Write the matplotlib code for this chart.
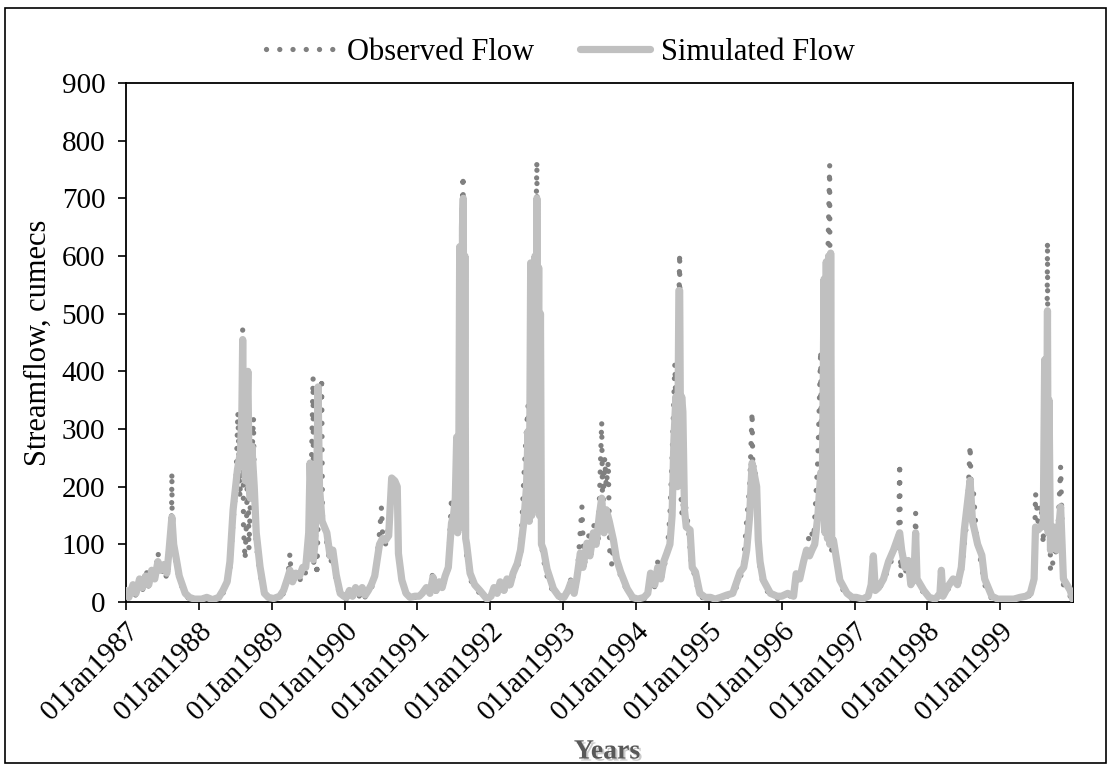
import numpy as np
import pandas as pd
import matplotlib
matplotlib.use('Agg')
import matplotlib.pyplot as plt
import matplotlib.patheffects as path_effects
from matplotlib.lines import Line2D
from matplotlib.patches import Rectangle

# Наблюдённый расход (cumecs), узловые точки ряда
obs_dates = [
    '1987-01-01', '1987-01-15', '1987-02-05', '1987-02-20', '1987-03-10', '1987-03-25', '1987-04-12', '1987-04-25',
    '1987-05-10', '1987-05-25', '1987-06-10', '1987-06-25', '1987-07-10', '1987-07-25', '1987-08-05', '1987-08-17',
    '1987-08-19', '1987-08-21', '1987-08-28', '1987-09-10', '1987-09-25', '1987-10-10', '1987-10-25', '1987-11-15',
    '1987-12-10',
    '1988-01-15', '1988-02-10', '1988-03-10', '1988-04-10', '1988-05-01', '1988-05-22', '1988-06-05', '1988-06-21',
    '1988-07-05', '1988-07-15', '1988-07-25', '1988-08-04', '1988-08-08', '1988-08-12', '1988-08-20', '1988-08-28',
    '1988-09-03', '1988-09-08', '1988-09-18', '1988-10-01', '1988-10-06', '1988-10-15', '1988-11-03', '1988-11-25',
    '1988-12-15',
    '1989-01-10', '1989-02-10', '1989-03-01', '1989-03-20', '1989-04-02', '1989-04-10', '1989-05-01', '1989-05-20',
    '1989-06-05', '1989-06-20', '1989-07-05', '1989-07-15', '1989-07-27', '1989-07-30', '1989-08-10', '1989-08-15',
    '1989-08-25', '1989-09-08', '1989-09-12', '1989-09-20', '1989-10-05', '1989-10-20', '1989-11-03', '1989-11-20',
    '1989-12-10', '1989-12-28',
    '1990-01-10', '1990-01-25', '1990-02-10', '1990-02-25', '1990-03-15', '1990-03-30', '1990-04-15', '1990-04-30',
    '1990-05-15', '1990-06-01', '1990-06-25', '1990-07-05', '1990-07-10', '1990-07-25', '1990-08-10', '1990-08-25',
    '1990-09-10', '1990-09-22', '1990-09-28', '1990-10-15', '1990-11-05', '1990-11-25', '1990-12-20',
    '1991-01-10', '1991-01-25', '1991-02-15', '1991-03-05', '1991-03-20', '1991-04-05', '1991-04-20', '1991-05-05',
    '1991-05-20', '1991-06-05', '1991-06-21', '1991-07-01', '1991-07-10', '1991-07-17', '1991-07-25', '1991-08-01',
    '1991-08-08', '1991-08-18', '1991-08-22', '1991-08-27', '1991-08-31', '1991-09-05', '1991-09-22', '1991-10-15',
    '1991-11-10', '1991-12-16',
    '1992-01-05', '1992-01-20', '1992-02-05', '1992-02-20', '1992-03-10', '1992-03-25', '1992-04-10', '1992-04-25',
    '1992-05-16', '1992-06-01', '1992-06-17', '1992-07-01', '1992-07-09', '1992-07-14', '1992-07-25', '1992-08-05',
    '1992-08-15', '1992-08-22', '1992-08-26', '1992-09-01', '1992-09-06', '1992-09-12', '1992-09-20', '1992-10-12',
    '1992-11-13', '1992-12-10',
    '1993-01-05', '1993-01-25', '1993-02-06', '1993-02-25', '1993-03-10', '1993-04-05', '1993-04-15', '1993-04-30',
    '1993-05-15', '1993-06-10', '1993-06-25', '1993-07-13', '1993-07-18', '1993-07-28', '1993-08-05', '1993-08-15',
    '1993-08-22', '1993-09-02', '1993-09-10', '1993-09-25', '1993-10-16', '1993-11-18', '1993-12-15',
    '1994-01-10', '1994-02-10', '1994-03-01', '1994-03-15', '1994-04-05', '1994-04-20', '1994-05-05', '1994-05-20',
    '1994-06-05', '1994-06-20', '1994-07-01', '1994-07-15', '1994-07-22', '1994-08-01', '1994-08-08', '1994-08-12',
    '1994-08-20', '1994-08-28', '1994-09-10', '1994-09-20', '1994-10-05', '1994-10-26', '1994-11-17', '1994-12-15',
    '1995-01-10', '1995-02-01', '1995-03-01', '1995-04-01', '1995-05-01', '1995-06-07', '1995-06-24', '1995-07-10',
    '1995-07-25', '1995-08-06', '1995-08-10', '1995-08-20', '1995-08-29', '1995-09-06', '1995-09-15', '1995-10-01',
    '1995-11-06', '1995-12-10',
    '1996-01-01', '1996-02-01', '1996-03-01', '1996-03-14', '1996-04-04', '1996-04-20', '1996-05-25', '1996-06-10',
    '1996-07-01', '1996-07-15', '1996-07-20', '1996-07-26', '1996-08-01', '1996-08-10', '1996-08-20', '1996-08-29',
    '1996-09-02', '1996-09-08', '1996-09-17', '1996-10-19', '1996-11-24', '1996-12-20',
    '1997-01-10', '1997-02-10', '1997-03-10', '1997-03-25', '1997-04-05', '1997-04-15', '1997-05-26', '1997-06-20',
    '1997-07-15', '1997-08-10', '1997-08-15', '1997-08-20', '1997-08-25', '1997-09-10', '1997-09-27', '1997-10-10',
    '1997-10-25', '1997-11-03', '1997-11-10', '1997-12-14',
    '1998-01-10', '1998-02-10', '1998-03-05', '1998-03-12', '1998-03-20', '1998-04-20', '1998-05-01', '1998-06-01',
    '1998-06-20', '1998-07-05', '1998-07-20', '1998-08-03', '1998-08-10', '1998-08-20', '1998-09-05', '1998-10-01',
    '1998-10-15', '1998-11-20', '1998-12-20',
    '1999-01-10', '1999-02-10', '1999-03-10', '1999-04-10', '1999-05-10', '1999-06-01', '1999-06-20', '1999-06-27',
    '1999-07-10', '1999-07-25', '1999-08-05', '1999-08-12', '1999-08-20', '1999-08-26', '1999-08-30', '1999-09-05',
    '1999-09-10', '1999-09-20', '1999-09-27', '1999-10-12', '1999-10-31', '1999-11-14', '1999-12-18', '1999-12-31',
]
obs_flow = [
    15, 5, 25, 10, 35, 20, 59, 25, 45, 35, 87, 45, 60, 40, 70, 120, 225, 100, 95, 65, 40, 25, 12, 5, 3,
    3, 5, 2, 5, 15, 30, 60, 140, 200, 330, 180, 300, 475, 130, 73, 150, 290, 90, 200, 320, 170, 100, 50, 10, 5,
    4, 8, 15, 30, 85, 30, 45, 35, 55, 50, 100, 170, 390, 67, 120, 45, 200, 390, 150, 130, 100, 65, 80, 35, 10, 6,
    5, 15, 8, 20, 10, 20, 8, 15, 25, 35, 120, 165, 120, 100, 130, 205, 200, 190, 80, 35, 12, 5, 8,
    8, 12, 20, 12, 55, 15, 30, 20, 40, 55, 182, 150, 170, 250, 170, 500, 600, 740, 150, 400, 100, 80, 40, 25, 15, 3,
    8, 20, 12, 30, 15, 35, 25, 45, 60, 80, 211, 300, 341, 160, 400, 500, 600, 765, 400, 484, 350, 120, 80, 45, 15, 8,
    5, 20, 40, 10, 35, 165, 60, 90, 130, 133, 100, 313, 140, 250, 200, 244, 90, 64, 100, 70, 45, 18, 5,
    3, 5, 10, 60, 25, 70, 35, 60, 80, 150, 250, 414, 300, 450, 605, 200, 150, 177, 160, 130, 70, 40, 10, 5,
    5, 3, 5, 10, 12, 40, 67, 142, 200, 330, 230, 240, 180, 100, 60, 30, 10, 6,
    6, 12, 8, 50, 55, 70, 125, 110, 250, 437, 200, 400, 300, 500, 600, 758, 200, 90, 100, 30, 10, 5,
    5, 3, 8, 25, 80, 15, 35, 60, 80, 120, 241, 43, 100, 50, 65, 25, 30, 154, 35, 15,
    5, 3, 12, 50, 8, 25, 40, 25, 50, 100, 150, 272, 180, 190, 110, 60, 30, 5, 3,
    3, 3, 3, 5, 8, 12, 35, 189, 140, 170, 100, 350, 200, 625, 150, 300, 52, 60, 100, 80, 235, 30, 10, 3,
]

# Смоделированный расход (cumecs)
sim_dates = [
    '1987-01-01', '1987-01-15', '1987-02-05', '1987-02-20', '1987-03-10', '1987-03-25', '1987-04-10', '1987-04-25',
    '1987-05-10', '1987-05-25', '1987-06-10', '1987-06-25', '1987-07-10', '1987-07-25', '1987-08-05', '1987-08-19',
    '1987-08-28', '1987-09-10', '1987-09-25', '1987-10-10', '1987-10-25', '1987-11-15', '1987-12-10',
    '1988-01-15', '1988-02-10', '1988-03-10', '1988-04-10', '1988-05-01', '1988-05-22', '1988-06-05', '1988-06-21',
    '1988-07-13', '1988-07-28', '1988-08-04', '1988-08-08', '1988-08-14', '1988-08-22', '1988-09-03', '1988-09-10',
    '1988-09-15', '1988-09-23', '1988-10-05', '1988-10-15', '1988-11-03', '1988-11-25', '1988-12-15',
    '1989-01-10', '1989-02-10', '1989-03-01', '1989-03-20', '1989-04-02', '1989-04-15', '1989-05-01', '1989-05-20',
    '1989-06-05', '1989-06-20', '1989-07-05', '1989-07-12', '1989-07-18', '1989-07-28', '1989-08-05', '1989-08-15',
    '1989-08-21', '1989-08-28', '1989-09-10', '1989-10-04', '1989-10-20', '1989-11-03', '1989-11-20', '1989-12-10',
    '1989-12-28',
    '1990-01-10', '1990-01-25', '1990-02-10', '1990-02-25', '1990-03-15', '1990-03-30', '1990-04-15', '1990-04-30',
    '1990-05-15', '1990-06-01', '1990-06-25', '1990-07-10', '1990-07-25', '1990-08-10', '1990-08-25', '1990-09-10',
    '1990-09-22', '1990-09-28', '1990-10-15', '1990-11-05', '1990-11-25', '1990-12-20',
    '1991-01-10', '1991-01-25', '1991-02-15', '1991-03-05', '1991-03-20', '1991-04-05', '1991-04-20', '1991-05-05',
    '1991-05-20', '1991-06-05', '1991-06-21', '1991-07-01', '1991-07-10', '1991-07-17', '1991-07-22', '1991-07-28',
    '1991-08-01', '1991-08-04', '1991-08-08', '1991-08-11', '1991-08-15', '1991-08-19', '1991-08-23', '1991-08-27',
    '1991-08-31', '1991-09-05', '1991-09-22', '1991-10-15', '1991-11-10', '1991-12-16',
    '1992-01-05', '1992-01-20', '1992-02-05', '1992-02-20', '1992-03-10', '1992-03-25', '1992-04-10', '1992-04-25',
    '1992-05-16', '1992-06-01', '1992-06-17', '1992-07-01', '1992-07-09', '1992-07-15', '1992-07-22', '1992-07-27',
    '1992-08-02', '1992-08-07', '1992-08-13', '1992-08-18', '1992-08-22', '1992-08-26', '1992-08-31', '1992-09-04',
    '1992-09-09', '1992-09-14', '1992-09-25', '1992-10-12', '1992-11-13', '1992-12-10',
    '1993-01-05', '1993-01-25', '1993-02-10', '1993-02-25', '1993-03-10', '1993-03-28', '1993-04-10', '1993-04-30',
    '1993-05-15', '1993-06-01', '1993-06-15', '1993-07-01', '1993-07-13', '1993-07-25', '1993-08-05', '1993-08-20',
    '1993-09-10', '1993-09-25', '1993-10-16', '1993-11-18', '1993-12-15',
    '1994-01-10', '1994-02-10', '1994-03-01', '1994-03-15', '1994-04-05', '1994-04-20', '1994-05-05', '1994-05-20',
    '1994-06-05', '1994-06-20', '1994-07-01', '1994-07-10', '1994-07-20', '1994-07-28', '1994-08-04', '1994-08-08',
    '1994-08-12', '1994-08-18', '1994-08-24', '1994-09-01', '1994-09-10', '1994-09-29', '1994-10-10', '1994-10-26',
    '1994-11-17', '1994-12-15',
    '1995-01-10', '1995-02-01', '1995-03-01', '1995-04-01', '1995-05-01', '1995-06-07', '1995-06-25', '1995-07-10',
    '1995-07-25', '1995-08-06', '1995-08-15', '1995-08-29', '1995-09-06', '1995-09-15', '1995-10-01', '1995-11-06',
    '1995-12-10',
    '1996-01-01', '1996-02-01', '1996-03-01', '1996-03-14', '1996-04-01', '1996-04-20', '1996-05-05', '1996-05-20',
    '1996-06-01', '1996-06-15', '1996-07-01', '1996-07-15', '1996-07-22', '1996-08-01', '1996-08-06', '1996-08-12',
    '1996-08-18', '1996-08-24', '1996-08-30', '1996-09-03', '1996-09-08', '1996-09-17', '1996-10-19', '1996-11-24',
    '1996-12-20',
    '1997-01-10', '1997-02-10', '1997-03-10', '1997-03-25', '1997-04-05', '1997-04-15', '1997-05-01', '1997-05-26',
    '1997-06-20', '1997-07-15', '1997-08-05', '1997-08-15', '1997-08-25', '1997-09-10', '1997-09-27', '1997-10-10',
    '1997-10-25', '1997-11-03', '1997-11-10', '1997-12-14',
    '1998-01-10', '1998-02-10', '1998-03-05', '1998-03-12', '1998-03-20', '1998-04-20', '1998-05-10', '1998-06-01',
    '1998-06-20', '1998-07-05', '1998-08-03', '1998-08-15', '1998-08-25', '1998-09-10', '1998-10-01', '1998-10-15',
    '1998-11-20', '1998-12-20',
    '1999-01-10', '1999-02-10', '1999-03-10', '1999-04-10', '1999-05-10', '1999-06-01', '1999-06-20', '1999-06-27',
    '1999-07-10', '1999-07-25', '1999-08-05', '1999-08-12', '1999-08-16', '1999-08-22', '1999-08-26', '1999-08-30',
    '1999-09-03', '1999-09-10', '1999-09-27', '1999-10-12', '1999-10-31', '1999-11-14', '1999-12-18', '1999-12-31',
]
sim_flow = [
    20, 8, 30, 15, 40, 25, 45, 30, 55, 40, 70, 55, 65, 50, 90, 147, 100, 75, 45, 30, 15, 8, 5,
    5, 8, 4, 8, 20, 35, 70, 160, 230, 260, 330, 455, 260, 210, 400, 200, 180, 270, 200, 120, 61, 15, 8,
    6, 10, 20, 40, 55, 35, 50, 45, 60, 60, 120, 241, 180, 73, 100, 230, 373, 200, 140, 120, 80, 90, 47, 15, 10,
    8, 20, 10, 25, 15, 25, 12, 20, 30, 45, 100, 110, 107, 115, 215, 210, 200, 84, 38, 15, 8, 10,
    10, 15, 25, 15, 43, 20, 35, 25, 45, 60, 137, 150, 180, 286, 120, 280, 616, 130, 610, 140, 650, 700, 150, 600,
    110, 100, 50, 30, 20, 5,
    10, 25, 15, 35, 20, 40, 30, 50, 67, 90, 137, 200, 296, 140, 588, 150, 570, 160, 600, 180, 700, 200, 580, 150,
    500, 100, 90, 57, 23, 10,
    8, 20, 35, 15, 40, 85, 60, 102, 80, 120, 100, 150, 180, 120, 160, 140, 107, 75, 52, 23, 8,
    5, 8, 15, 50, 30, 60, 40, 70, 85, 100, 150, 280, 356, 200, 540, 540, 300, 356, 330, 160, 130, 125, 60, 52, 15, 8,
    8, 5, 8, 12, 15, 52, 60, 90, 150, 241, 225, 200, 107, 70, 38, 15, 10,
    10, 15, 10, 49, 40, 70, 90, 80, 90, 100, 150, 224, 150, 560, 120, 590, 110, 600, 100, 605, 110, 107, 38, 15, 8,
    8, 5, 10, 30, 80, 20, 25, 40, 70, 90, 110, 120, 90, 60, 72, 30, 40, 120, 40, 20,
    8, 5, 15, 55, 10, 30, 40, 30, 60, 125, 211, 140, 125, 100, 81, 40, 10, 5,
    5, 5, 5, 8, 10, 15, 40, 130, 125, 130, 140, 420, 130, 300, 505, 120, 350, 90, 130, 90, 165, 40, 20, 5,
]

years = list(range(1987, 2000))
tick_labels = [f'01Jan{y}' for y in years]


def main():
    plt.rcParams['font.family'] = ['Liberation Serif', 'DejaVu Serif']

    obs_x = pd.to_datetime(obs_dates)
    sim_x = pd.to_datetime(sim_dates)

    W, H = 1112, 767
    fig = plt.figure(figsize=(W / 100, H / 100), dpi=100)

    # Область построения (в пикселях: слева 126, справа 1073, сверху 83, снизу 602)
    ax = fig.add_axes([126 / W, 1 - 602 / H, (1073 - 126) / W, (602 - 83) / H])

    # Стиль точечной линии для наблюдённого ряда
    obs_style = dict(color='#808080', linewidth=3.8, linestyle=(0, (0.01, 2.5)), dash_capstyle='round')
    sim_style = dict(color='#c0c0c0', linewidth=5.2, solid_capstyle='round')

    # Наблюдённый ряд снизу, смоделированный - толстая светлая линия поверх
    ax.plot(obs_x, obs_flow, zorder=2, **obs_style)
    ax.plot(sim_x, sim_flow, solid_joinstyle='round', zorder=3, **sim_style)

    ax.set_xlim(pd.Timestamp('1987-01-01'), pd.Timestamp('2000-01-01'))
    ax.set_ylim(0, 900)
    ax.set_yticks(np.arange(0, 901, 100))
    ax.set_xticks(pd.to_datetime([f'{y}-01-01' for y in years]))
    ax.set_xticklabels(tick_labels, rotation=45, ha='right', rotation_mode='anchor')

    ax.tick_params(axis='both', direction='out', length=6, width=1.2, colors='black', labelsize=21)
    ax.tick_params(axis='y', pad=9)
    ax.tick_params(axis='x', pad=5)
    for side in ['left', 'right', 'top', 'bottom']:
        ax.spines[side].set_linewidth(1.3)
        ax.spines[side].set_color('black')

    ax.set_ylabel('Streamflow, cumecs', fontsize=22, labelpad=6)

    # Подпись оси X с тенью
    t = fig.text(607 / W, 1 - 752 / H, 'Years', fontsize=20, fontweight='bold',
                 color='#595959', ha='center', va='center')
    t.set_path_effects([path_effects.SimplePatchShadow(offset=(1.5, -1.5), shadow_rgbFace='#bfbfbf', alpha=0.8),
                        path_effects.Normal()])

    # Легенда сверху
    handles = [Line2D([], [], **obs_style), Line2D([], [], **sim_style)]
    fig.legend(handles, ['Observed Flow', 'Simulated Flow'], loc='center',
               bbox_to_anchor=(560 / W, 1 - 52 / H), ncol=2, frameon=False, fontsize=22,
               handlelength=2.3, handletextpad=0.35, columnspacing=1.5)

    # Рамка вокруг всей диаграммы
    fig.patches.append(Rectangle((5 / W, 1 - 763 / H), (1106 - 5) / W, (763 - 8) / H,
                                 transform=fig.transFigure, fill=False,
                                 edgecolor='black', linewidth=1.2))

    plt.savefig('out.png', dpi=100)
    plt.close()


if __name__ == "__main__":
    main()
